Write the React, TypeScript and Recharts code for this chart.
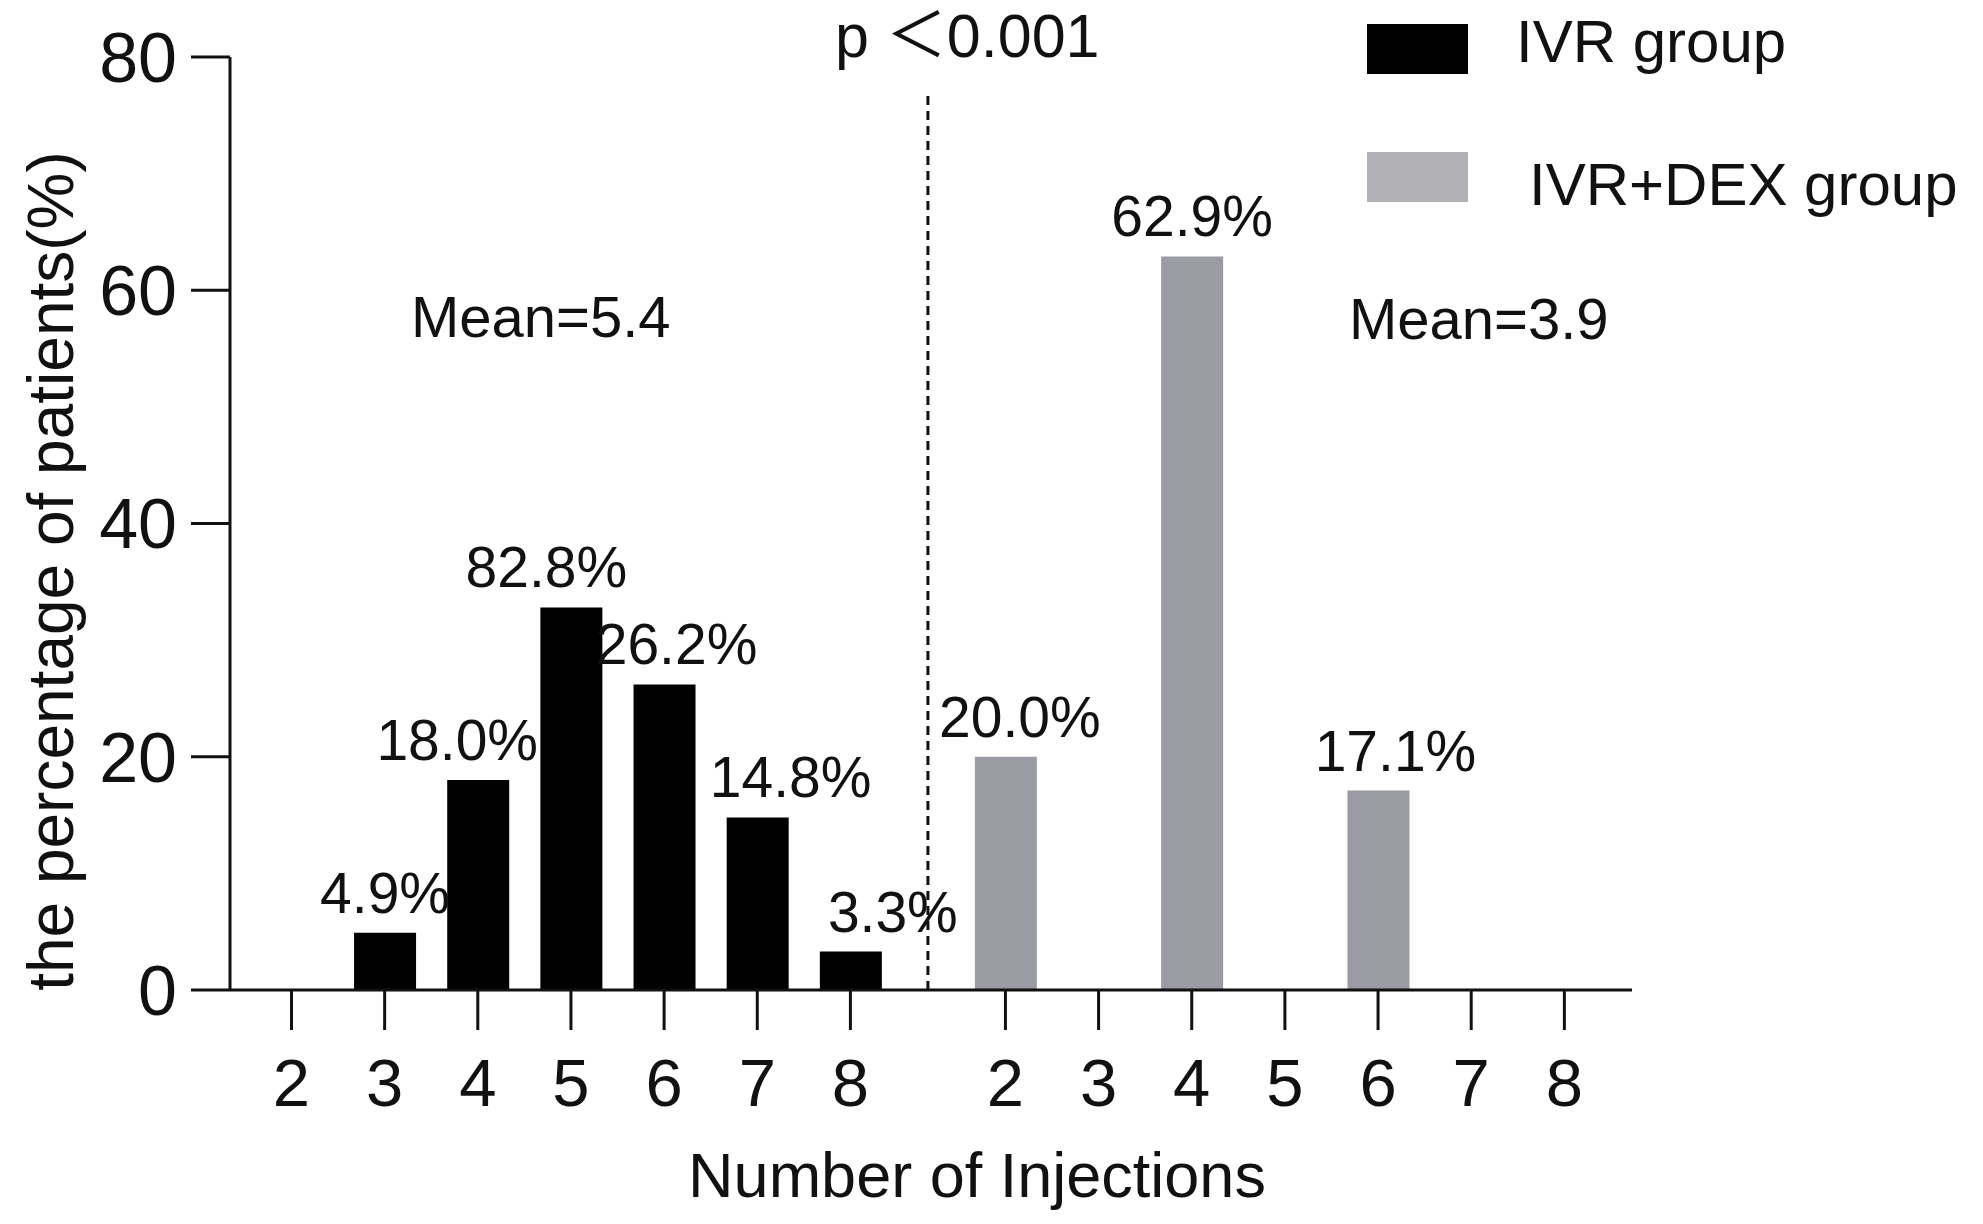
import React from 'react';
import {
  BarChart, Bar, XAxis, YAxis, LabelList, ReferenceLine, Legend, Customized,
} from 'recharts';

// number of injections shown under each group
const INJECTIONS = ['2', '3', '4', '5', '6', '7', '8'];

// IVR group (% of patients)
const IVR_PCT = [0, 4.9, 18.0, 32.8, 26.2, 14.8, 3.3];
const IVR_LABELS = ['', '4.9%', '18.0%', '82.8%', '26.2%', '14.8%', '3.3%'];

// IVR+DEX group (% of patients)
const DEX_PCT = [20.0, 0, 62.9, 0, 17.1, 0, 0];
const DEX_LABELS = ['20.0%', '', '62.9%', '', '17.1%', '', ''];

const Y_TICKS = [0, 20, 40, 60, 80];

const SERIES = [
  { key: 'ivr', name: 'IVR group', fill: '#000000', swatch: '#000000' },
  { key: 'dex', name: 'IVR+DEX group', fill: '#9b9ba3', swatch: '#b2b2b6' },
];

// labels in the original were nudged sideways by hand so they clear the neighbours
const LABEL_NUDGE: Record<string, number[]> = {
  ivr: [0, -21, -25, 12, 33, 42, 8],
  dex: [14, 0, 17, 0, 19, 0, 0],
};

const FONT = '"Liberation Sans", Arial, Helvetica, sans-serif';
const INK = '#111111';

// the second group sits a little further right than a plain continuation
const GROUP_SHIFT = 7.664;
const DIVIDER = 8 + (GROUP_SHIFT - 6) / 2;

const leftRows = INJECTIONS.map((_, i) => ({
  pos: 2 + i,
  ivr: IVR_PCT[i],
  ivrLabel: IVR_LABELS[i],
  dexLabel: '',
}));
const rightRows = INJECTIONS.map((_, i) => ({
  pos: 2 + i + GROUP_SHIFT,
  dex: DEX_PCT[i],
  ivrLabel: '',
  dexLabel: DEX_LABELS[i],
}));
const data = [...leftRows, ...rightRows];
const xTicks = data.map(d => d.pos);

const makeLabel = (key: string) => (props: any) => {
  const { x, y, width, value, index } = props;
  if (!value) return null;
  const nudge = LABEL_NUDGE[key][index % INJECTIONS.length] || 0;
  return (
    <text
      x={Number(x) + Number(width) / 2 + nudge}
      y={Number(y) - 20}
      textAnchor="middle"
      fill={INK}
      fontSize={57}
      fontFamily={FONT}
    >
      {value}
    </text>
  );
};

const LegendBox = () => (
  <svg width={616} height={230} style={{ display: 'block' }}>
    {SERIES.map((s, i) => (
      <g key={s.key}>
        <rect x={0} y={i === 0 ? 24 : 152} width={101} height={50} fill={s.swatch} />
        <text
          x={i === 0 ? 149 : 162}
          y={i === 0 ? 62 : 205}
          fontSize={60}
          fontFamily={FONT}
          fill={INK}
        >
          {s.name}
        </text>
      </g>
    ))}
  </svg>
);

const Annotations = () => (
  <g fontFamily={FONT} fill={INK}>
    <text x={73} y={571} transform="rotate(-90 73 571)" textAnchor="middle" fontSize={64}>
      the percentage of patients(%)
    </text>
    <text x={835} y={57} fontSize={61} fontFamily={`${FONT}, "Noto Sans CJK SC"`}>
      p ＜0.001
    </text>
    <text x={411} y={337} fontSize={58}>Mean=5.4</text>
    <text x={1349} y={339} fontSize={58}>Mean=3.9</text>
  </g>
);

export default function App() {
  return (
    <div style={{ position: 'absolute', left: 0, top: 0, width: 1983, height: 1224, background: '#fff' }}>
      <BarChart
        width={1983}
        height={1224}
        data={data}
        margin={{ top: 57, right: 351, bottom: 0, left: 0 }}
      >
        <XAxis
          dataKey="pos"
          type="number"
          domain={[1.34, 16.39]}
          allowDataOverflow
          ticks={xTicks}
          interval={0}
          tickFormatter={(_v: number, i: number) => INJECTIONS[i % INJECTIONS.length]}
          height={234}
          tickSize={40}
          tickMargin={28}
          axisLine={{ stroke: INK, strokeWidth: 3 }}
          tickLine={{ stroke: INK, strokeWidth: 3 }}
          tick={{ fill: INK, fontSize: 67, fontFamily: FONT }}
          label={{
            value: 'Number of Injections',
            position: 'insideBottom',
            offset: 27,
            dx: 46,
            fill: INK,
            fontSize: 63,
            fontFamily: FONT,
          }}
        />
        <YAxis
          type="number"
          domain={[0, 80]}
          ticks={Y_TICKS}
          width={230}
          tickSize={39}
          tickMargin={14}
          axisLine={{ stroke: INK, strokeWidth: 3 }}
          tickLine={{ stroke: INK, strokeWidth: 3 }}
          tick={{ fill: INK, fontSize: 70, fontFamily: FONT }}
        />
        <ReferenceLine
          segment={[{ x: DIVIDER, y: 0 }, { x: DIVIDER, y: 76.7 }]}
          stroke={INK}
          strokeWidth={3}
          strokeDasharray="9 6"
        />
        {SERIES.map(s => (
          <Bar
            key={s.key}
            dataKey={s.key}
            name={s.name}
            stackId="one"
            fill={s.fill}
            barSize={62}
            isAnimationActive={false}
          >
            <LabelList dataKey={`${s.key}Label`} content={makeLabel(s.key)} />
          </Bar>
        ))}
        <Legend
          layout="horizontal"
          verticalAlign="middle"
          align="center"
          content={() => <LegendBox />}
          wrapperStyle={{ position: 'absolute', left: 1367, top: 0, width: 616, height: 230 }}
        />
        <Customized component={Annotations} />
      </BarChart>
    </div>
  );
}
